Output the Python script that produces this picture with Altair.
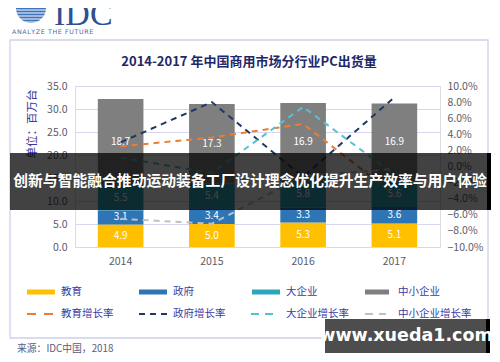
import altair as alt
import pandas as pd

# ---------------- data ----------------
years = ["2014", "2015", "2016", "2017"]
segments = ["教育", "政府", "大企业", "中小企业"]
edu = [4.9, 5.0, 5.3, 5.1]
gov = [3.1, 3.4, 3.3, 3.6]
large = [5.5, 5.4, 5.8, 5.6]
sme = [18.7, 17.3, 16.9, 16.9]

rate_names = ["教育增长率", "政府增长率", "大企业增长率", "中小企业增长率"]
edu_g = [0.025, 0.036, 0.053, -0.035]
gov_g = [0.030, 0.080, -0.013, 0.086]
large_g = [0.011, -0.008, 0.074, -0.010]
sme_g = [-0.065, -0.071, -0.012, -0.003]

left_ticks = [0, 5, 10, 15, 20, 25, 30, 35]
right_ticks = [-0.10, -0.08, -0.06, -0.04, -0.02, 0.0, 0.02, 0.04, 0.06, 0.08, 0.10]

seg_colors = ["#FFC000", "#2E75B6", "#2BA6BB", "#7F7F7F"]
rate_colors = ["#ED7D31", "#203864", "#56C2CF", "#C0C0C0"]

title_text = "2014-2017 年中国商用市场分行业PC出货量"
ytitle_text = "单位：百万台"
source_text = "来源：IDC中国，2018"
banner_text = "创新与智能融合推动运动装备工厂设计理念优化提升生产效率与用户体验"
watermark_text = "www.xueda1.com"
logo_text = "IDC"
tagline_text = "\u200a".join("ANALYZE THE FUTURE")

# ---------------- tables ----------------
seg_values = [edu, gov, large, sme]
bar_rows = []
for si, (seg, vals) in enumerate(zip(segments, seg_values)):
    for y, v in zip(years, vals):
        bar_rows.append({"year": y, "segment": seg, "value": v, "order": si})
bar_df = pd.DataFrame(bar_rows)

rate_values = [edu_g, gov_g, large_g, sme_g]
rate_rows = []
for name, vals in zip(rate_names, rate_values):
    for y, v in zip(years, vals):
        rate_rows.append({"year": y, "series": name, "rate": v})
rate_df = pd.DataFrame(rate_rows)

FONT = "Noto Sans CJK SC"
OX, OY = 75, 86  # plot origin in picture pixels


def X(px):
    return alt.value(px - OX)


def Y(py):
    return alt.value(py - OY)


one = pd.DataFrame({"t": [""]})


def txt(text, x, y, size, color, weight="normal", align="left", angle=0, font=FONT):
    kw = dict(fontSize=size, color=color, fontWeight=weight, align=align,
              baseline="middle", font=font)
    if angle:
        kw["angle"] = angle
    return alt.Chart(pd.DataFrame({"t": [text]})).mark_text(**kw).encode(
        x=X(x), y=Y(y), text="t:N")


def rect(x1, x2, y1, y2, **kw):
    return alt.Chart(one).mark_rect(**kw).encode(x=X(x1), x2=X(x2), y=Y(y1), y2=Y(y2))


def rule(x1, x2, y, color, width, dash=None):
    kw = dict(color=color, strokeWidth=width)
    if dash:
        kw["strokeDash"] = dash
    return alt.Chart(one).mark_rule(**kw).encode(x=X(x1), x2=X(x2), y=Y(y))


x_enc = alt.X(
    "year:N", sort=years,
    scale=alt.Scale(domain=years, paddingInner=0.5, paddingOuter=0.25),
    axis=alt.Axis(title=None, labelAngle=0, ticks=False, domain=False, labelPadding=9,
                  labelColor="#5A5A6A", labelFontSize=10.5, labelFont=FONT),
)

bars = alt.Chart(bar_df).mark_bar().encode(
    x=x_enc,
    y=alt.Y("value:Q", stack="zero",
            scale=alt.Scale(domain=[0, 35], nice=False),
            axis=alt.Axis(orient="left", title=None, values=left_ticks, format=".1f",
                          grid=True, gridColor="#D6D6F0", gridWidth=1, ticks=False,
                          domain=False, labelPadding=8, labelColor="#5A5A6A",
                          labelFontSize=10.5, labelFont=FONT)),
    color=alt.Color("segment:N", scale=alt.Scale(domain=segments, range=seg_colors), legend=None),
    order=alt.Order("order:Q"),
)

bar_labels = alt.Chart(bar_df).transform_stack(
    stack="value", groupby=["year"], sort=[alt.SortField("order", "ascending")], as_=["y0", "y1"]
).transform_calculate(mid="(datum.y0 + datum.y1) / 2").mark_text(
    color="white", fontSize=10, font=FONT, baseline="middle"
).encode(
    x=x_enc,
    y=alt.Y("mid:Q", scale=alt.Scale(domain=[0, 35], nice=False), axis=None),
    text=alt.Text("value:Q", format=".1f"),
)

lines = alt.Chart(rate_df).mark_line(strokeWidth=2, strokeDash=[6, 5]).encode(
    x=x_enc,
    y=alt.Y("rate:Q", scale=alt.Scale(domain=[-0.1, 0.1], nice=False),
            axis=alt.Axis(orient="right", title=None, values=right_ticks, format=".1%",
                          grid=False, ticks=False, domain=False, labelPadding=7,
                          labelColor="#5A5A6A", labelFontSize=10.5, labelFont=FONT)),
    color=alt.Color("series:N", scale=alt.Scale(domain=rate_names, range=rate_colors), legend=None),
    detail="series:N",
)

layers = []
# frame
layers.append(rect(10, 488, 40, 338, fillOpacity=0, stroke="#D0D0EC", strokeWidth=1.3))
# logo
layers.append(alt.Chart(one).mark_point(filled=True, shape="circle", size=900, color="#3F74BA", opacity=1)
              .encode(x=X(31), y=Y(8)))
for sy in [10, 13, 16, 19, 22]:
    layers.append(rule(11, 51, sy, "white", 1.2))
layers.append(txt(logo_text, 54, 15, 34, "#2F4F8F", font="Liberation Serif"))
layers.append(txt(tagline_text, 12, 32, 6.3, "#4A68A0", font="DejaVu Sans"))
# titles
layers.append(txt(title_text, 249, 62, 13, "#1F2868", weight="bold", align="center"))
layers.append(txt(ytitle_text, 33, 124, 11.5, "#3A3A96", align="center", angle=270))
# chart
layers += [bars, bar_labels, lines]
# legend
leg_x = [(27, 55, 61), (139, 167, 173), (252, 280, 286), (365, 389, 398)]
leg_dash_x = [(27, 54, [9, 8]), (139, 167, [6, 5]), (251, 273, [8, 6]), (365, 386, [8, 6])]
for i in range(4):
    x1, x2, tx = leg_x[i]
    layers.append(rule(x1, x2, 292, seg_colors[i], 5))
    layers.append(txt(segments[i], tx, 292, 10.5, "#3C3CA0"))
    dx1, dx2, dash = leg_dash_x[i]
    layers.append(rule(dx1, dx2, 314, rate_colors[i], 2, dash))
    layers.append(txt(rate_names[i], tx, 314, 10.5, "#3C3CA0"))
# source
layers.append(txt(source_text, 17, 348.5, 9.8, "#5A5A80"))
# banner overlay
layers.append(rect(10, 490, 153, 210, color="black", opacity=0.74))
layers.append(rect(487, 491, 153, 210, color="black", opacity=1))
layers.append(txt(banner_text, 250, 182, 14.8, "white", weight="bold", align="center"))
# watermark
layers.append(rect(325, 489, 319, 353, color="#4D4D4D", opacity=1))
layers.append(rect(486, 490, 319, 353, color="black", opacity=1))
layers.append(txt(watermark_text, 406, 336, 17.5, "white", weight="bold", align="center",
                  font="DejaVu Sans"))

chart = alt.layer(*layers).resolve_scale(y="independent", color="independent").properties(
    width=365, height=161,
    padding={"left": 67, "top": 78, "right": 52, "bottom": 107},
    autosize=alt.AutoSizeParams(type="none"),
).configure_view(stroke=None).configure(background="white")

chart.save("out.html", embed_options={"renderer": "svg", "actions": False})
